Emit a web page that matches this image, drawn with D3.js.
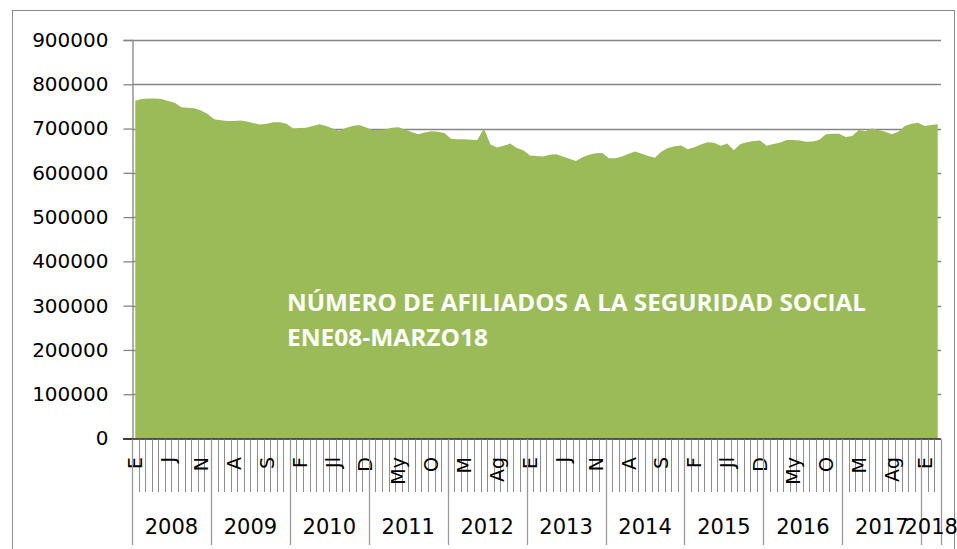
<!DOCTYPE html>
<html>
<head>
<meta charset="utf-8">
<script src="https://cdn.jsdelivr.net/npm/d3@7"></script>
<style>
  html, body { margin: 0; padding: 0; background: #fff; }
  svg { display: block; }
</style>
</head>
<body>
<svg id="chart" width="957" height="549"></svg>
<script>
// ---------- DATA ----------
const years = ["2008","2009","2010","2011","2012","2013","2014","2015","2016","2017","2018"];
const monthAbbr = ["E","F","M","A","My","J","Jl","Ag","S","O","N","D"];
const yTicks = [0,100000,200000,300000,400000,500000,600000,700000,800000,900000];
// afiliados, monthly Jan 2008 - Mar 2018
const v2008 = [763000,767000,768000,768000,767000,762000,758000,748000,747000,746000,741000,733000];
const v2009 = [721000,719000,717000,717000,718000,716000,712000,709000,711000,714000,714000,711000];
const v2010 = [700000,701000,702000,706000,710000,706000,700000,695000,701000,706000,708000,703000];
const v2011 = [697000,697000,698000,702000,703000,698000,692000,687000,691000,694000,693000,690000];
const v2012 = [677000,676000,676000,675000,674000,700000,664000,657000,661000,666000,656000,651000];
const v2013 = [639000,638000,637000,641000,642000,637000,632000,627000,635000,641000,644000,645000];
const v2014 = [633000,633000,637000,643000,648000,643000,638000,634000,648000,656000,660000,662000];
const v2015 = [653000,658000,664000,669000,668000,661000,666000,651000,665000,669000,672000,673000];
const v2016 = [661000,665000,668000,674000,674000,673000,670000,671000,675000,687000,688000,688000];
const v2017 = [681000,683000,697000,694000,700000,697000,693000,687000,693000,706000,711000,713000];
const v2018 = [706000,708000,710000];
const titleLines = ["NÚMERO DE AFILIADOS A LA SEGURIDAD SOCIAL", "ENE08-MARZO18"];

const allYears = [v2008,v2009,v2010,v2011,v2012,v2013,v2014,v2015,v2016,v2017,v2018];
const data = [];
allYears.forEach((arr, yi) => arr.forEach((v, m) => data.push({ i: data.length, year: years[yi], month: m, value: v })));

// ---------- LAYOUT ----------
const svg = d3.select("#chart");
const L = 132, R = 941, T = 40, B = 438.5;
const font = "'DejaVu Sans', sans-serif";
const grid = "#868686";

// outer border
svg.append("rect").attr("x", 12.5).attr("y", 10.5).attr("width", 942).attr("height", 560)
  .attr("fill", "none").attr("stroke", "#8c8c8c").attr("stroke-width", 1);

const x = d3.scaleBand().domain(data.map(d => d.i)).range([L, R]).paddingInner(0).paddingOuter(0);
const y = d3.scaleLinear().domain([0, 900000]).range([B, T]);
const cx = i => x(i) + x.bandwidth() / 2;

// gridlines
svg.append("g").selectAll("line").data(yTicks.filter(t => t > 0)).join("line")
  .attr("x1", L).attr("x2", R)
  .attr("y1", d => Math.round(y(d)) + 0.5).attr("y2", d => Math.round(y(d)) + 0.5)
  .attr("stroke", grid).attr("stroke-width", 1.3);

// area
const area = d3.area().x(d => cx(d.i)).y0(y(0)).y1(d => y(d.value)).curve(d3.curveLinear);
svg.append("path").datum(data).attr("d", area).attr("fill", "#9BBB59");

// y axis
const yAxis = d3.axisLeft(y).tickValues(yTicks).tickSize(9).tickPadding(15).tickFormat(d3.format("d"));
const gy = svg.append("g").attr("transform", `translate(${L + 0.5},0)`).call(yAxis);
gy.select(".domain").attr("stroke", grid).attr("stroke-width", 1.3);
gy.selectAll(".tick line").attr("stroke", grid).attr("stroke-width", 1.3);
gy.selectAll(".tick text").attr("font-family", font).attr("font-size", 20).attr("fill", "#000");

// x axis baseline
svg.append("line").attr("x1", L - 9).attr("x2", R).attr("y1", B + 0.5).attr("y2", B + 0.5)
  .attr("stroke", "#222").attr("stroke-width", 1.3);

// month tick marks (band boundaries)
const bounds = data.map(d => x(d.i)).concat([R]);
svg.append("g").selectAll("line").data(bounds).join("line")
  .attr("x1", d => Math.round(d) + 0.5).attr("x2", d => Math.round(d) + 0.5)
  .attr("y1", B + 1).attr("y2", 492)
  .attr("stroke", "#8e8e8e").attr("stroke-width", 1);

// month labels every 5 months
svg.append("g").selectAll("text").data(data.filter(d => d.i % 5 === 0)).join("text")
  .attr("transform", d => `translate(${cx(d.i) + 7},457) rotate(-90)`)
  .attr("text-anchor", "end")
  .attr("font-family", font).attr("font-size", 19).attr("fill", "#000")
  .text(d => monthAbbr[d.month]);

// year separators & labels
const yearGroups = years.map(yr => {
  const pts = data.filter(d => d.year === yr);
  return { yr, x0: x(pts[0].i), x1: x(pts[pts.length - 1].i) + x.bandwidth() };
});
const seps = yearGroups.map(g => g.x0).concat([R]);
svg.append("g").selectAll("line").data(seps).join("line")
  .attr("x1", d => Math.round(d) + 0.5).attr("x2", d => Math.round(d) + 0.5)
  .attr("y1", B + 1).attr("y2", 545)
  .attr("stroke", "#9a9a9a").attr("stroke-width", 1.3);
svg.append("g").selectAll("text").data(yearGroups).join("text")
  .attr("x", g => (g.x0 + g.x1) / 2).attr("y", 534)
  .attr("text-anchor", "middle")
  .attr("font-family", font).attr("font-size", 21).attr("fill", "#000")
  .text(g => g.yr);

// title inside plot
const tw = [579, 201];
svg.append("g").selectAll("text").data(titleLines).join("text")
  .attr("x", 287).attr("y", (d, k) => 311 + k * 35)
  .attr("font-family", "'Open Sans', sans-serif").attr("font-weight", "bold").attr("font-size", 24)
  .attr("fill", "#fff")
  .attr("textLength", (d, k) => tw[k]).attr("lengthAdjust", "spacingAndGlyphs")
  .text(d => d);
</script>
</body>
</html>
